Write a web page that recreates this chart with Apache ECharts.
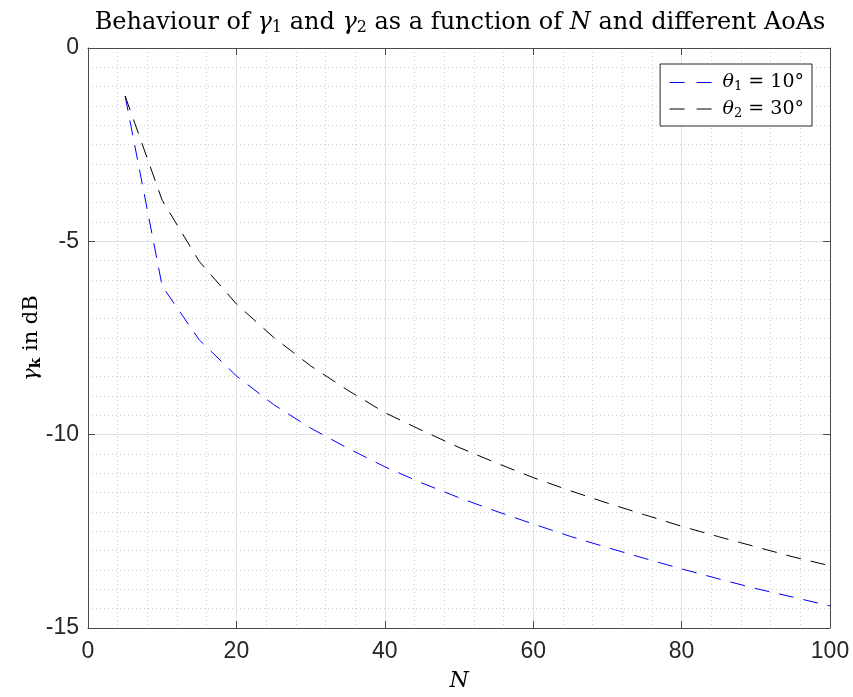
<!DOCTYPE html>
<html>
<head>
<meta charset="utf-8">
<script src="https://cdn.jsdelivr.net/npm/echarts@6/dist/echarts.min.js"></script>
<style>
html,body{margin:0;padding:0;background:#fff;}
#chart{width:853px;height:697px;}
</style>
</head>
<body>
<div id="chart"></div>
<script>
// ---- data ----
var N = [5,10,15,20,25,30,35,40,45,50,55,60,65,70,75,80,85,90,95,100];
var gamma1 = [-1.24,-6.16,-7.55,-8.48,-9.22,-9.83,-10.35,-10.83,-11.25,-11.63,-11.98,-12.31,-12.63,-12.92,-13.20,-13.47,-13.73,-13.98,-14.20,-14.43];
var gamma2 = [-1.24,-3.94,-5.52,-6.62,-7.48,-8.22,-8.85,-9.43,-9.89,-10.33,-10.73,-11.11,-11.45,-11.77,-12.07,-12.37,-12.64,-12.90,-13.16,-13.39];
var seriesNames = ['θ₁ = 10°', 'θ₂ = 30°'];
var seriesColors = ['#0000ff', '#000000'];
var legendRich = ['{i|θ}{s|1} = 10°', '{i|θ}{s|2} = 30°'];
var xTicks = [0,20,40,60,80,100];
var yTicks = [-15,-10,-5,0];

function pairs(xs, ys){ return xs.map(function(x,i){ return [x, ys[i]]; }); }

var serif = '"DejaVu Serif", "Liberation Serif", serif';
var sans = '"Liberation Sans", Arial, sans-serif';
var axisColor = '#4a4a4a';

var chart = echarts.init(document.getElementById('chart'), null, {renderer:'canvas'});

var baseX = {
  type:'value', min:xTicks[0], max:xTicks[xTicks.length-1], interval:20
};
var baseY = {
  type:'value', min:yTicks[0], max:yTicks[yTicks.length-1], interval:5
};

var option = {
  backgroundColor:'#ffffff',
  animation:false,
  title:{
    text:'Behaviour of {i|γ}{s|1} and {i|γ}{s|2} as a function of {i|N} and different AoAs',
    left:455, top:4, textAlign:'center',
    textStyle:{
      fontFamily:serif, fontSize:24, fontWeight:'normal', color:'#000',
      rich:{
        i:{fontFamily:serif, fontSize:24, fontStyle:'italic', color:'#000'},
        s:{fontFamily:serif, fontSize:16, color:'#000', verticalAlign:'bottom', padding:[11,0,0,0]}
      }
    }
  },
  grid:{left:88, top:48, width:742, height:584, show:false},
  legend:{
    data:seriesNames.map(function(n,i){
      return {name:n, lineStyle:{color:seriesColors[i], type:[15,12], width:1}};
    }),
    orient:'vertical',
    right:41, top:64,
    padding:[9,8,6,9],
    itemGap:6,
    itemWidth:42, itemHeight:14,
    backgroundColor:'#ffffff',
    borderColor:'#262626', borderWidth:1,
    itemStyle:{opacity:0},
    formatter:function(name){ return legendRich[seriesNames.indexOf(name)]; },
    textStyle:{
      fontFamily:serif, fontSize:19, color:'#000', padding:[0,0,0,6],
      rich:{
        i:{fontFamily:serif, fontSize:19, fontStyle:'italic', color:'#000'},
        s:{fontFamily:serif, fontSize:13, color:'#000', verticalAlign:'bottom', padding:[9,0,0,0]}
      }
    }
  },
  xAxis:[
    Object.assign({}, baseX, {
      position:'bottom',
      name:'N', nameLocation:'middle', nameGap:42, nameMoveOverlap:false,
      nameTextStyle:{fontFamily:serif, fontSize:22, fontStyle:'italic', color:'#000'},
      axisLine:{show:true, onZero:false, lineStyle:{color:axisColor, width:1}},
      axisTick:{show:true, inside:true, length:7, lineStyle:{color:axisColor}},
      axisLabel:{show:true, margin:12, fontFamily:sans, fontSize:23, color:'#262626'},
      splitLine:{show:true, lineStyle:{color:'#e2e2e2', width:1}},
      minorTick:{show:false, splitNumber:5},
      minorSplitLine:{show:true, lineStyle:{color:'#cdcdcd', width:1, type:[1,3]}}
    }),
    Object.assign({}, baseX, {
      position:'top',
      axisLine:{show:true, onZero:false, lineStyle:{color:axisColor, width:1}},
      axisTick:{show:true, inside:true, length:7, lineStyle:{color:axisColor}},
      axisLabel:{show:false},
      splitLine:{show:false}
    })
  ],
  yAxis:[
    Object.assign({}, baseY, {
      position:'left',
      name:'{g|γ}{k|k} in dB', nameLocation:'middle', nameGap:44, nameRotate:90, nameMoveOverlap:false,
      nameTextStyle:{
        fontFamily:serif, fontSize:21, color:'#000',
        rich:{
          g:{fontFamily:serif, fontSize:21, fontStyle:'italic', color:'#000'},
          k:{fontFamily:serif, fontSize:15, fontWeight:'bold', color:'#000', verticalAlign:'bottom', padding:[10,0,0,0]}
        }
      },
      axisLine:{show:true, onZero:false, lineStyle:{color:axisColor, width:1}},
      axisTick:{show:true, inside:true, length:7, lineStyle:{color:axisColor}},
      axisLabel:{show:true, margin:9, fontFamily:sans, fontSize:23, color:'#262626'},
      splitLine:{show:true, lineStyle:{color:'#e2e2e2', width:1}},
      minorTick:{show:false, splitNumber:10},
      minorSplitLine:{show:true, lineStyle:{color:'#cdcdcd', width:1, type:[1,3]}}
    }),
    Object.assign({}, baseY, {
      position:'right',
      axisLine:{show:true, onZero:false, lineStyle:{color:axisColor, width:1}},
      axisTick:{show:true, inside:true, length:7, lineStyle:{color:axisColor}},
      axisLabel:{show:false},
      splitLine:{show:false}
    })
  ],
  series:[
    {
      name:seriesNames[0], type:'line', xAxisIndex:0, yAxisIndex:0,
      data:pairs(N, gamma1), symbol:'none', smooth:false,
      lineStyle:{color:seriesColors[0], width:1, type:[15,10]},
      itemStyle:{color:seriesColors[0]}
    },
    {
      name:seriesNames[1], type:'line', xAxisIndex:0, yAxisIndex:0,
      data:pairs(N, gamma2), symbol:'none', smooth:false,
      lineStyle:{color:seriesColors[1], width:1, type:[15,10]},
      itemStyle:{color:seriesColors[1]}
    }
  ]
};
chart.setOption(option);
</script>
</body>
</html>
